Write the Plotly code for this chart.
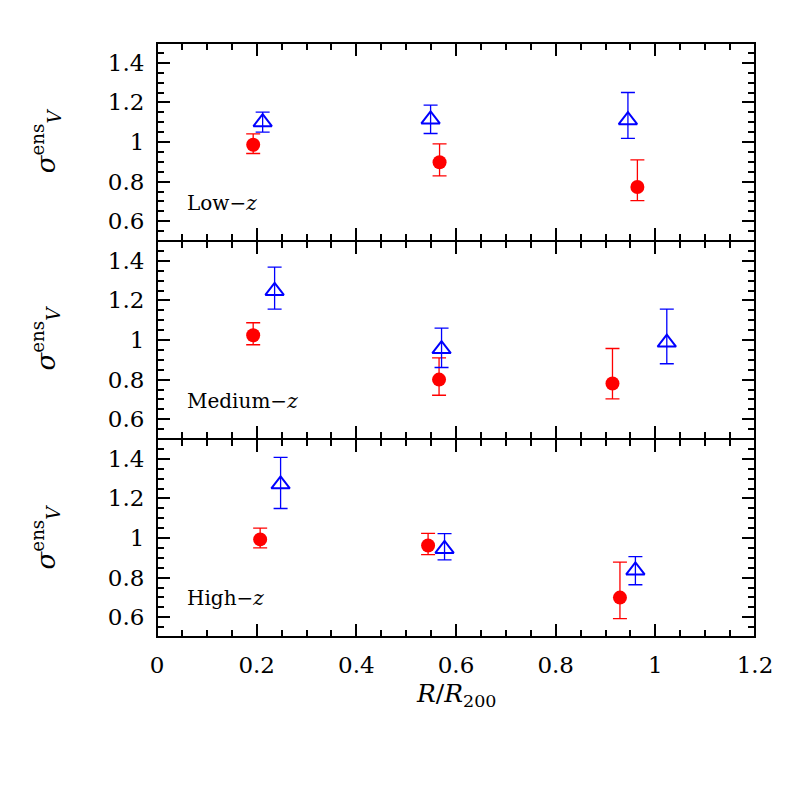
import plotly.graph_objects as go
from plotly.subplots import make_subplots

# points, upper and lower ends of the error bars
panel_names = ['Low\u2212<i>z</i>', 'Medium\u2212<i>z</i>', 'High\u2212<i>z</i>']

circ_x = [[0.193, 0.567, 0.964], [0.193, 0.566, 0.914], [0.207, 0.544, 0.929]]
circ_y = [[0.986, 0.898, 0.773], [1.024, 0.800, 0.780], [0.993, 0.962, 0.699]]
circ_hi = [[1.041, 0.991, 0.910], [1.087, 0.910, 0.957], [1.050, 1.023, 0.878]]
circ_lo = [[0.942, 0.829, 0.704], [0.976, 0.721, 0.703], [0.950, 0.916, 0.593]]

tri_x = [[0.212, 0.549, 0.945], [0.236, 0.571, 1.023], [0.248, 0.577, 0.960]]
tri_y = [[1.100, 1.114, 1.110], [1.248, 0.954, 0.987], [1.271, 0.945, 0.836]]
tri_hi = [[1.151, 1.186, 1.250], [1.368, 1.060, 1.156], [1.407, 1.022, 0.906]]
tri_lo = [[1.050, 1.043, 1.018], [1.156, 0.861, 0.880], [1.149, 0.890, 0.764]]

FONT = 'DejaVu Serif'

fig = make_subplots(rows=3, cols=1, shared_xaxes=True, vertical_spacing=0)

for i in range(3):
    row = i + 1
    up = [h - y for h, y in zip(circ_hi[i], circ_y[i])]
    dn = [y - l for l, y in zip(circ_lo[i], circ_y[i])]
    fig.add_trace(go.Scatter(
        x=circ_x[i], y=circ_y[i], mode='markers',
        marker=dict(symbol='circle', size=14, color='#ff0000'),
        error_y=dict(type='data', symmetric=False, array=up, arrayminus=dn,
                     color='#ff0000', thickness=1.3, width=7),
        showlegend=False), row=row, col=1)

    up = [h - y for h, y in zip(tri_hi[i], tri_y[i])]
    dn = [y - l for l, y in zip(tri_lo[i], tri_y[i])]
    fig.add_trace(go.Scatter(
        x=tri_x[i], y=tri_y[i], mode='markers',
        marker=dict(symbol='triangle-up-open', size=16, color='#0000ff',
                    line=dict(width=2, color='#0000ff')),
        error_y=dict(type='data', symmetric=False, array=up, arrayminus=dn,
                     color='#0000ff', thickness=1.3, width=7),
        showlegend=False), row=row, col=1)

axis_style = dict(
    showline=True, linecolor='black', linewidth=1, mirror='allticks',
    ticks='inside', ticklen=13, tickwidth=2, tickcolor='black',
    showgrid=False, zeroline=False, ticklabelstandoff=7,
    tickfont=dict(family=FONT, size=23, color='black'),
    minor=dict(ticks='inside', ticklen=7, tickwidth=1.5, tickcolor='black', dtick=0.05),
)

for i in range(3):
    row = i + 1
    fig.update_xaxes(range=[0, 1.2], dtick=0.2, showticklabels=(row == 3),
                     row=row, col=1, **axis_style)
    fig.update_yaxes(range=[0.5, 1.5], dtick=0.2, row=row, col=1, **axis_style)

# outer frame a bit heavier than the panel dividers
fig.add_shape(type='rect', xref='paper', yref='paper', x0=0, x1=1, y0=0, y1=1,
              line=dict(color='black', width=2), layer='above')

annotations = []
label_y = [0.731, 0.397, 0.066]
title_y = [0.835, 0.503, 0.168]
for i in range(3):
    annotations.append(dict(
        text=panel_names[i], xref='paper', yref='paper', x=0.047, y=label_y[i],
        xanchor='left', yanchor='middle', showarrow=False,
        font=dict(family=FONT, size=20, color='black')))
    annotations.append(dict(
        text='<i>\u03c3</i><sup>ens</sup><sub><i>V</i></sub>', xref='paper', yref='paper',
        x=-0.187, y=title_y[i], xanchor='center', yanchor='middle', textangle=-90,
        showarrow=False, font=dict(family=FONT, size=26, color='black')))

annotations.append(dict(
    text='<i>R</i>/<i>R</i><sub>200</sub>', xref='paper', yref='paper', x=0.5, y=-0.097,
    xanchor='center', yanchor='middle', showarrow=False,
    font=dict(family=FONT, size=25, color='black')))

# page body has an 8px margin, so the figure is shrunk by that much
fig.update_layout(
    width=789, height=789,
    margin=dict(l=149, r=42, t=35, b=160),
    paper_bgcolor='white', plot_bgcolor='white',
    annotations=annotations,
)

fig.write_html("out.html")
